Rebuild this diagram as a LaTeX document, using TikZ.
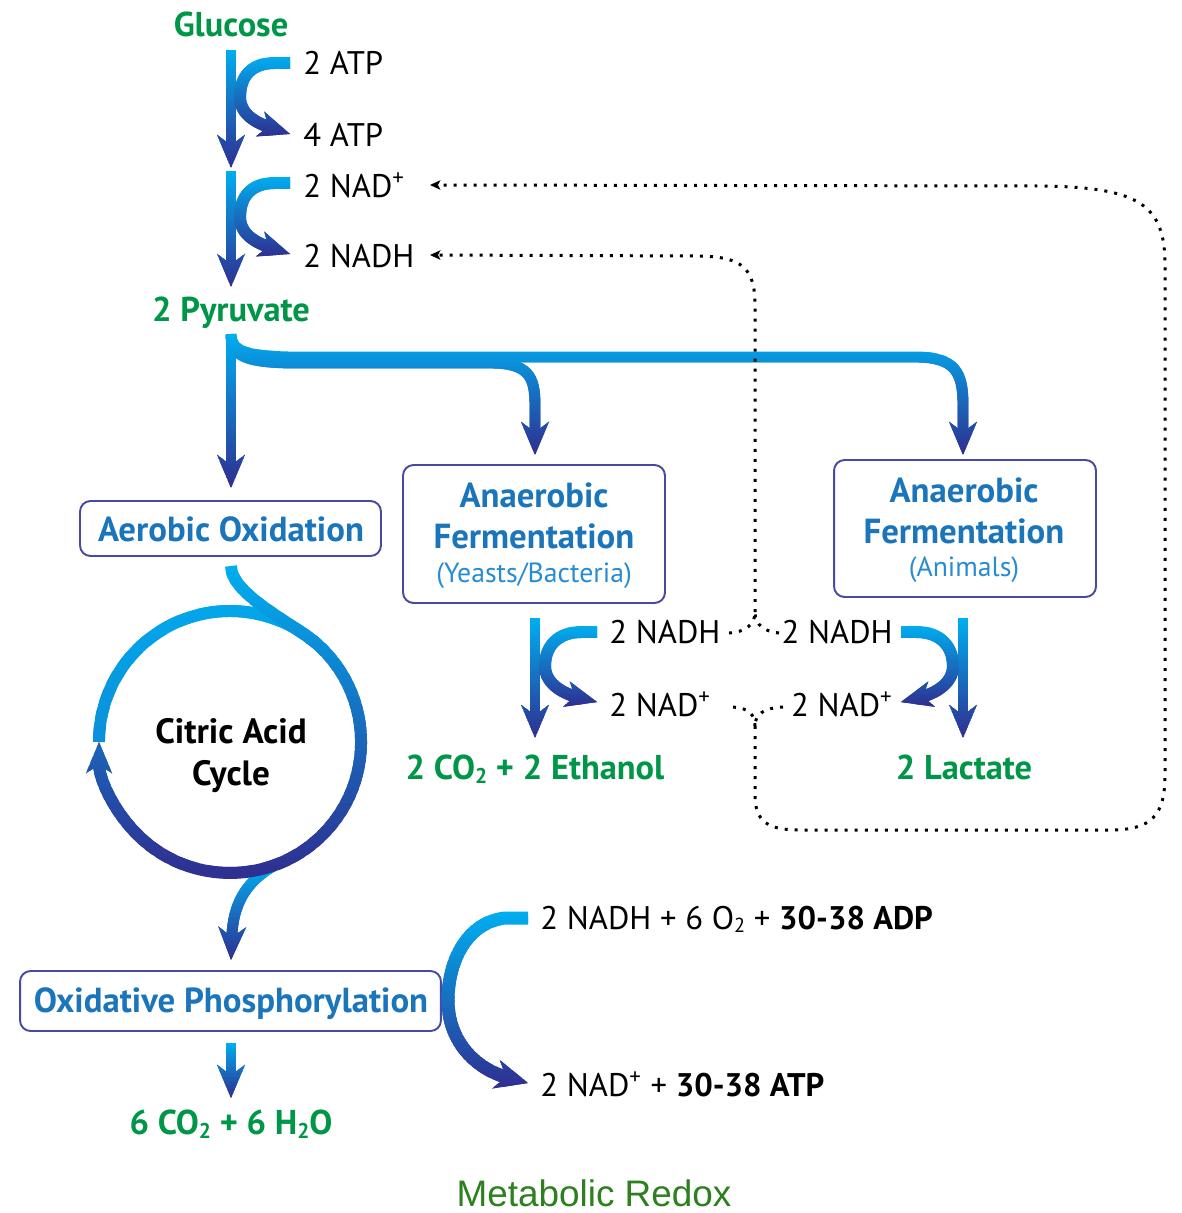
\documentclass[tikz,border=0pt]{standalone}
\usepackage{fontspec}
\setmainfont{PT Sans}
\newfontfamily\titlefont{Liberation Sans}
\usetikzlibrary{arrows.meta}
\definecolor{gA}{RGB}{0,174,239}
\definecolor{gB}{RGB}{46,49,146}
\definecolor{lblgreen}{RGB}{0,150,72}
\definecolor{boxblue}{RGB}{27,117,187}
\definecolor{boxline}{RGB}{72,72,165}
\definecolor{subblue}{RGB}{40,140,210}
\definecolor{titlegreen}{RGB}{45,128,30}
\newcommand\lowtwo{\raisebox{-0.12em}{\scalebox{0.62}{2}}}
% gradient stroke: #1 top y, #2 bottom y, #3 style, #4 path
\newcommand\gradpath[4]{%
  \foreach \k in {0,...,39}{%
    \pgfmathtruncatemacro\pc{100-\k*100/39}%
    \pgfmathsetmacro\ya{ifthenelse(\k==0,-100,#1+(#2-#1)/40*\k)}%
    \pgfmathsetmacro\yb{ifthenelse(\k==39,1400,#1+(#2-#1)/40*(\k+1.6))}%
    \begin{scope}
      \clip (-100,\ya) rectangle (1300,\yb);
      \draw[#3, draw=gA!\pc!gB] #4;
    \end{scope}%
  }%
}
\begin{document}
\begin{tikzpicture}[x=0.02cm,y=-0.02cm,
  mainarr/.style={line width=6.2pt, -{Stealth[length=19pt,width=16pt,inset=6pt,line width=0pt]}},
  hookarr/.style={line width=6.8pt, -{Stealth[length=18pt,width=15pt,inset=5pt,line width=0pt]}},
  bigarr/.style={line width=7.4pt, -{Stealth[length=19pt,width=17pt,inset=6pt,line width=0pt]}},
  ringline/.style={line width=6.8pt},
  dotline/.style={line width=1.7pt, dash pattern=on 1.7pt off 4pt, draw=black},
  dottip/.style={-{Stealth[length=6pt,width=5.5pt,inset=1.5pt,line width=0pt]}},
  procbox/.style={draw=boxline, line width=1.1pt, rounded corners=6pt, fill=white, inner sep=0pt},
  lbl/.style={font=\fontsize{18.6}{22}\selectfont, text=black, inner sep=0pt, anchor=base west},
  lble/.style={lbl, anchor=base east},
  grn/.style={font=\bfseries\fontsize{19.6}{23}\selectfont, text=lblgreen, inner sep=0pt, anchor=base},
  boxtxt/.style={font=\bfseries\fontsize{19.8}{23}\selectfont, text=boxblue, inner sep=0pt, anchor=base},
  subtxt/.style={font=\fontsize{15.8}{18}\selectfont, text=subblue, inner sep=0pt, anchor=base},
  cyctxt/.style={font=\bfseries\fontsize{20}{23}\selectfont, text=black, inner sep=0pt, anchor=base},
]
\useasboundingbox (0,0) rectangle (1181,1213);
\fill[white] (0,0) rectangle (1181,1213);

% ---------- coordinates ----------
\coordinate (g0) at (231,50);   \coordinate (g1) at (231,168);
\coordinate (g2) at (231,171);  \coordinate (g3) at (231,287);
\coordinate (h1s) at (290,63);  \coordinate (h1e) at (290,134);
\coordinate (h2s) at (290,183); \coordinate (h2e) at (290,254);
\coordinate (p0) at (231,334);  \coordinate (p1) at (231,488);
\coordinate (pA) at (535,455);  \coordinate (pB) at (963,455);
\coordinate (fL0) at (535,618); \coordinate (fL1) at (535,738);
\coordinate (fR0) at (963,618); \coordinate (fR1) at (963,738);
\coordinate (hLs) at (597,632); \coordinate (hLe) at (597,702);
\coordinate (hRs) at (901,632); \coordinate (hRe) at (901,702);
\coordinate (cL) at (99,742);   \coordinate (cM) at (317.7,644.6);
\coordinate (lead0) at (231,566);
\coordinate (ex0) at (274.8,865.1); \coordinate (ex1) at (231,960);
\coordinate (o0) at (231,1043); \coordinate (o1) at (231,1098);
\coordinate (bs) at (528,918);  \coordinate (be) at (528,1083);
\coordinate (nadTip) at (430,185);
\coordinate (nadhTip) at (430,255);
\coordinate (jNADH) at (755,612);
\coordinate (jNAD) at (755,726);

% ---------- boxes ----------
\node[procbox, minimum width=6.02cm, minimum height=1.1cm] (aerobic) at (230.5,528.5) {};
\node[procbox, minimum width=5.24cm, minimum height=2.76cm] (yeast) at (534,534) {};
\node[procbox, minimum width=5.24cm, minimum height=2.74cm] (animal) at (965,528.5) {};
\node[procbox, minimum width=8.42cm, minimum height=1.2cm] (oxphos) at (230.5,1001) {};

% ---------- glycolysis ----------
\gradpath{50}{168}{mainarr}{(g0) -- (g1)}
\gradpath{171}{287}{mainarr}{(g2) -- (g3)}
\gradpath{56}{138}{hookarr}{(h1s) -- (275,63) .. controls (250,63) and (240,78) .. (240,97) .. controls (240,116) and (260,124) .. (h1e)}
\gradpath{176}{258}{hookarr}{(h2s) -- (275,183) .. controls (250,183) and (240,198) .. (240,217) .. controls (240,236) and (260,244) .. (h2e)}

% ---------- pyruvate branches ----------
\gradpath{334}{488}{mainarr}{(p0) -- (p1)}
\gradpath{334}{455}{mainarr}{(p0) .. controls (231,356) and (245,362) .. (290,363) -- (490,363) .. controls (528,363) and (535,376) .. (535,405) -- (pA)}
\gradpath{334}{455}{mainarr}{(p0) .. controls (231,351) and (245,356) .. (290,357) -- (915,357) .. controls (955,357) and (963,372) .. (963,405) -- (pB)}

% ---------- fermentation ----------
\gradpath{618}{738}{mainarr}{(fL0) -- (fL1)}
\gradpath{618}{738}{mainarr}{(fR0) -- (fR1)}
\gradpath{625}{707}{hookarr}{(hLs) -- (582,632) .. controls (557,632) and (545,647) .. (545,666) .. controls (545,685) and (566,694) .. (hLe)}
\gradpath{625}{707}{hookarr}{(hRs) -- (916,632) .. controls (941,632) and (953,647) .. (953,666) .. controls (953,685) and (932,694) .. (hRe)}

% ---------- citric acid cycle ----------
\gradpath{865}{960}{mainarr}{(ex0) .. controls (245,882) and (233,905) .. (ex1)}
\gradpath{560}{1300}{ringline}{(cL) arc[start angle=180, end angle=312, radius=131]}
\gradpath{566}{873}{hookarr}{(lead0) .. controls (231,595) and (295.4,624.5) .. (cM) arc[start angle=312, end angle=540, radius=131]}

% ---------- oxidative phosphorylation ----------
\gradpath{1043}{1098}{mainarr}{(o0) -- (o1)}
\gradpath{912}{1088}{bigarr}{(bs) -- (505,918) .. controls (468,922) and (448,960) .. (448,1000) .. controls (448,1045) and (480,1070) .. (be)}

% ---------- dotted recycling lines ----------
\draw[dotline, dottip] (jNAD) -- (755,795) .. controls (755,822) and (768,830) .. (800,830) -- (1110,830) .. controls (1152,830) and (1165,815) .. (1165,775) -- (1165,265) .. controls (1165,205) and (1140,187) .. (1040,186) -- (nadTip);
\draw[dotline] (733,707) .. controls (748,708) and (755,714) .. (jNAD);
\draw[dotline] (783,707) .. controls (764,708) and (755,714) .. (jNAD);
\draw[dotline, dottip] (jNADH) -- (755,305) .. controls (755,268) and (742,257) .. (700,256) -- (nadhTip);
\draw[dotline] (729,633) .. controls (745,632) and (755,625) .. (jNADH);
\draw[dotline] (779,633) .. controls (765,632) and (755,625) .. (jNADH);

% ---------- texts ----------
\node[grn] (glucose) at (231,37) {Glucose};
\node[lbl] (atp2) at (303,75) {2 ATP};
\node[lbl] (atp4) at (303,147) {4 ATP};
\node[lbl] (nad1) at (303,197) {2 NAD\textsuperscript{+}};
\node[lbl] (nadh1) at (303,267) {2 NADH};
\node[grn] (pyr) at (231,321) {2 Pyruvate};
\node[boxtxt] (aerobicT) at (231,541) {Aerobic Oxidation};
\node[boxtxt] (yeastT1) at (534,507) {Anaerobic};
\node[boxtxt] (yeastT2) at (534,548) {Fermentation};
\node[subtxt] (yeastT3) at (534,582) {(Yeasts/Bacteria)};
\node[boxtxt] (animalT1) at (964,502) {Anaerobic};
\node[boxtxt] (animalT2) at (964,543) {Fermentation};
\node[subtxt] (animalT3) at (964,576) {(Animals)};
\node[cyctxt] (citric) at (231,743) {Citric Acid};
\node[cyctxt] (cycle) at (231,785) {Cycle};
\node[lbl] (nadhL) at (609,643) {2 NADH};
\node[lbl] (nadL) at (609,716) {2 NAD\textsuperscript{+}};
\node[lble] (nadhR) at (893,643) {2 NADH};
\node[lble] (nadR) at (893,716) {2 NAD\textsuperscript{+}};
\node[grn] (ethanol) at (535,779) {2 CO\lowtwo{} + 2 Ethanol};
\node[grn] (lactate) at (964,779) {2 Lactate};
\node[boxtxt] (oxphosT) at (231,1012) {Oxidative Phosphorylation};
\node[grn] (water) at (231,1134) {6 CO\lowtwo{} + 6 H\lowtwo{}O};
\node[lbl] (inputs) at (540,929) {2 NADH + 6 O\lowtwo{} + \textbf{30-38 ADP}};
\node[lbl] (outputs) at (540,1096) {2 NAD\textsuperscript{+} + \textbf{30-38 ATP}};
\node[font=\titlefont\fontsize{21}{25}\selectfont, text=titlegreen, inner sep=0pt, text depth=0pt, anchor=base] (title) at (594,1206) {Metabolic Redox};
\end{tikzpicture}
\end{document}
